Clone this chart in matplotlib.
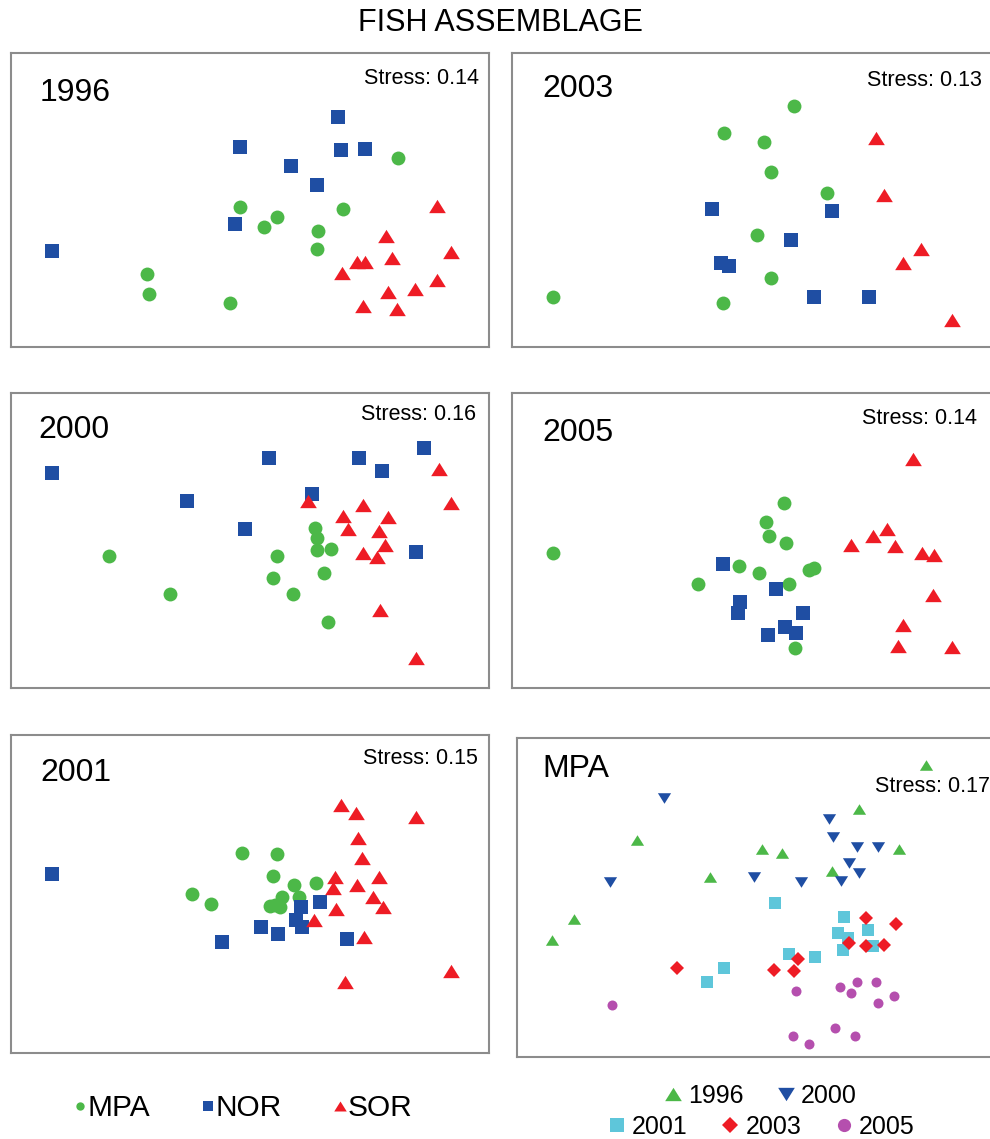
import matplotlib.pyplot as plt
from matplotlib.lines import Line2D

plt.rcParams['font.family'] = ['Liberation Sans', 'DejaVu Sans']

# nMDS ordination scores (arbitrary units, y grows downward)
pts_1996_mpa = [(387, 105), (229, 154), (266, 164), (253, 174), (332, 156), (307, 178),
                (306, 196), (136, 221), (138, 241), (219, 250)]
pts_1996_nor = [(327, 64), (229, 94), (330, 97), (354, 96), (280, 113), (306, 132),
                (224, 171), (41, 198)]
pts_1996_sor = [(426, 153), (375, 183), (440, 199), (346, 209), (354, 209), (381, 205),
                (331, 220), (426, 227), (404, 236), (377, 239), (352, 253), (386, 256)]

pts_2003_mpa = [(282, 53), (212, 80), (252, 89), (259, 119), (315, 140), (245, 182),
                (259, 225), (41, 244), (211, 250)]
pts_2003_nor = [(200, 156), (320, 158), (279, 187), (209, 210), (217, 213), (302, 244),
                (357, 244)]
pts_2003_sor = [(364, 85), (372, 142), (409, 196), (391, 210), (440, 267)]

pts_2000_mpa = [(98, 163), (159, 201), (266, 163), (262, 185), (282, 201), (304, 135),
                (306, 145), (306, 157), (320, 156), (313, 180), (317, 229)]
pts_2000_nor = [(413, 55), (258, 65), (348, 65), (371, 78), (41, 80), (176, 108),
                (301, 101), (234, 136), (405, 159)]
pts_2000_sor = [(428, 76), (440, 110), (297, 108), (352, 112), (332, 123), (377, 124),
                (337, 136), (368, 138), (374, 152), (352, 160), (366, 164), (369, 217),
                (405, 265)]

pts_2005_mpa = [(272, 110), (254, 129), (257, 143), (274, 150), (41, 160), (227, 173),
                (247, 180), (186, 191), (277, 191), (297, 177), (302, 175), (283, 255)]
pts_2005_nor = [(211, 171), (264, 196), (228, 209), (226, 220), (291, 220), (273, 234),
                (284, 240), (256, 242)]
pts_2005_sor = [(401, 66), (339, 152), (361, 143), (375, 136), (383, 153), (410, 160),
                (422, 162), (421, 202), (391, 232), (386, 253), (440, 254)]

pts_2001_mpa = [(231, 118), (266, 119), (262, 141), (283, 150), (305, 148), (181, 159),
                (200, 169), (271, 162), (288, 162), (264, 170), (269, 172), (259, 171)]
pts_2001_nor = [(41, 139), (290, 172), (309, 167), (285, 185), (291, 192), (250, 192),
                (267, 199), (211, 207), (336, 204)]
pts_2001_sor = [(330, 70), (345, 78), (405, 82), (347, 103), (351, 123), (324, 142),
                (368, 142), (322, 153), (346, 150), (362, 162), (372, 172), (325, 174),
                (303, 185), (353, 202), (440, 236), (334, 247)]

# MPA sites only, coloured by year
mpa_1996 = [(409, 27), (342, 71), (120, 102), (245, 111), (265, 115), (382, 111),
            (193, 139), (315, 133), (57, 181), (35, 202)]
mpa_2000 = [(147, 60), (312, 81), (316, 99), (340, 109), (361, 109), (332, 125),
            (342, 135), (93, 144), (237, 139), (284, 144), (324, 143)]
mpa_2001 = [(258, 165), (327, 179), (321, 195), (331, 200), (351, 192), (356, 208),
            (326, 212), (272, 216), (298, 219), (207, 230), (190, 244)]
mpa_2003 = [(349, 180), (379, 186), (332, 205), (349, 208), (367, 207), (281, 221),
            (160, 230), (257, 232), (277, 233)]
mpa_2005 = [(340, 244), (359, 244), (323, 249), (334, 255), (279, 253), (377, 258),
            (361, 265), (95, 267), (318, 290), (338, 298), (276, 298), (292, 306)]

stress = {'1996': 0.14, '2003': 0.13, '2000': 0.16, '2005': 0.14, '2001': 0.15, 'MPA': 0.17}

GREEN = '#4cb848'
BLUE = '#1f4ea3'
RED = '#ee1c25'
CYAN = '#5ec6da'
PURPLE = '#b54fae'
TRI_UP = [(0, 0.8), (-1, -0.8), (1, -0.8)]
TRI_DOWN = [(0, -0.8), (-1, 0.8), (1, 0.8)]

W, H = 990, 1139
fig = plt.figure(figsize=(W / 100, H / 100), dpi=100)


# Panel box given in pixels: left, top, width, height
def add_panel(left, top, width, height, right_col=False):
    ax = fig.add_axes([left / W, 1 - (top + height) / H, width / W, height / H])
    ax.set_xlim(0, width)
    ax.set_ylim(height, 0)
    ax.set_xticks([])
    ax.set_yticks([])
    for side, sp in ax.spines.items():
        sp.set_color('#8c8c8c')
        sp.set_linewidth(1.5)
    if right_col:
        ax.spines['right'].set_visible(False)
    return ax


def scatter(ax, pts, marker, color, size):
    xs = [p[0] for p in pts]
    ys = [p[1] for p in pts]
    ax.plot(xs, ys, linestyle='none', marker=marker, color=color,
            markersize=size, markeredgewidth=0)


def site_panel(box, name, mpa, nor, sor, label_xy, stress_xy, right_col=False):
    ax = add_panel(*box, right_col=right_col)
    scatter(ax, mpa, 'o', GREEN, 10)
    scatter(ax, nor, 's', BLUE, 10)
    scatter(ax, sor, TRI_UP, RED, 12)
    ax.text(label_xy[0], label_xy[1], name, fontsize=23, ha='left', va='center')
    ax.text(stress_xy[0], stress_xy[1], f"Stress: {stress[name]:.2f}", fontsize=15.5,
            ha='right', va='center')
    return ax


site_panel((11, 53, 478, 294), '1996', pts_1996_mpa, pts_1996_nor, pts_1996_sor, (29, 40), (468, 26))
site_panel((512, 53, 478, 294), '2003', pts_2003_mpa, pts_2003_nor, pts_2003_sor, (30, 36), (470, 28), True)
site_panel((11, 393, 478, 295), '2000', pts_2000_mpa, pts_2000_nor, pts_2000_sor, (27, 37), (465, 21))
site_panel((512, 393, 478, 295), '2005', pts_2005_mpa, pts_2005_nor, pts_2005_sor, (30, 40), (465, 25), True)
site_panel((11, 735, 478, 318), '2001', pts_2001_mpa, pts_2001_nor, pts_2001_sor, (29, 38), (467, 23))

# MPA panel
ax = add_panel(517, 738, 473, 319, right_col=True)
scatter(ax, mpa_1996, TRI_UP, GREEN, 9.5)
scatter(ax, mpa_2000, TRI_DOWN, BLUE, 9.5)
scatter(ax, mpa_2001, 's', CYAN, 8)
scatter(ax, mpa_2003, 'D', RED, 6.8)
scatter(ax, mpa_2005, 'o', PURPLE, 7.2)
ax.text(25, 31, 'MPA', fontsize=23, ha='left', va='center')
ax.text(473, 49, f"Stress: {stress['MPA']:.2f}", fontsize=15.5, ha='right', va='center')

fig.text(500 / W, 1 - 23 / H, 'FISH ASSEMBLAGE', fontsize=22, ha='center', va='center')


def handle(marker, color, size):
    return Line2D([], [], linestyle='none', marker=marker, color=color,
                  markersize=size, markeredgewidth=0)


leg_kw = dict(loc='center', frameon=False, borderpad=0, borderaxespad=0)

fig.legend([handle('o', GREEN, 6), handle('s', BLUE, 7), handle(TRI_UP, RED, 9)],
           ['MPA', 'NOR', 'SOR'], ncol=3, fontsize=21.5, handlelength=0.4,
           handletextpad=0.05, columnspacing=1.75,
           bbox_to_anchor=(243 / W, 1 - 1108 / H), **leg_kw)

fig.legend([handle(TRI_UP, GREEN, 12), handle(TRI_DOWN, BLUE, 12)],
           ['1996', '2000'], ncol=2, fontsize=18, handlelength=0.6,
           handletextpad=0.3, columnspacing=1.4,
           bbox_to_anchor=(761 / W, 1 - 1096 / H), **leg_kw)

fig.legend([handle('s', CYAN, 9.5), handle('D', RED, 8.5), handle('o', PURPLE, 9.5)],
           ['2001', '2003', '2005'], ncol=3, fontsize=18, handlelength=0.6,
           handletextpad=0.3, columnspacing=1.4,
           bbox_to_anchor=(762 / W, 1 - 1127 / H), **leg_kw)

fig.savefig('out.png', dpi=100)
